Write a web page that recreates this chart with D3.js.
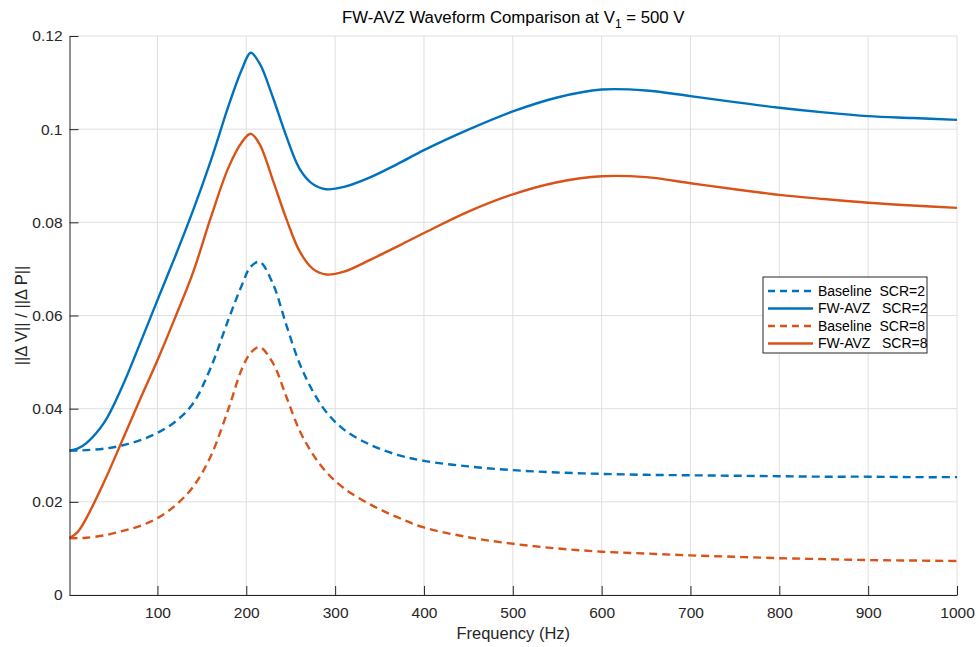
<!DOCTYPE html>
<html>
<head>
<meta charset="utf-8">
<script src="https://cdn.jsdelivr.net/npm/d3@7"></script>
<style>
  body { margin: 0; background: #fff; }
  svg { font-family: "Liberation Sans", Arial, sans-serif; }
  .legend text { white-space: pre; }
</style>
</head>
<body>
<div id="chart"></div>
<script>
// ---- data ----
const freqs = [1, 10, 20, 40, 60, 80, 100, 120, 140, 160, 180, 195, 205, 215, 230, 245, 260, 275, 290,
  310, 340, 370, 400, 450, 500, 550, 600, 650, 700, 750, 800, 850, 900, 950, 1000];

const baselineScr2 = [0.0310, 0.0310, 0.0311, 0.0314, 0.0321, 0.0332, 0.0348, 0.0372, 0.0411, 0.0488, 0.0592,
  0.0665, 0.0705, 0.0715, 0.0668, 0.0580, 0.0497, 0.0437, 0.0393,
  0.0355, 0.0322, 0.0301, 0.0288, 0.0276, 0.0268, 0.0263, 0.0260, 0.0258, 0.0257, 0.0256, 0.0255, 0.0254, 0.0254, 0.0253, 0.0253];

const fwavzScr2 = [0.0310, 0.0314, 0.0326, 0.0370, 0.0446, 0.0538, 0.0633, 0.0727, 0.0825, 0.0932, 0.1050,
  0.1128, 0.1164, 0.1141, 0.1068, 0.0985, 0.0915, 0.0882, 0.0871,
  0.0876, 0.0897, 0.0925, 0.0955, 0.0999, 0.1038, 0.1068, 0.1085, 0.1083, 0.1071, 0.1058, 0.1046, 0.1036, 0.1028, 0.1024, 0.1020];

const baselineScr8 = [0.0122, 0.0122, 0.0123, 0.0128, 0.0137, 0.0148, 0.0165, 0.0192, 0.0232, 0.0298, 0.0400,
  0.0485, 0.0520, 0.0532, 0.0498, 0.0426, 0.0353, 0.0302, 0.0264,
  0.0229, 0.0194, 0.0167, 0.0145, 0.0124, 0.0110, 0.0100, 0.0093, 0.0089, 0.0085, 0.0082, 0.0079, 0.0077, 0.0075, 0.0074, 0.0073];

const fwavzScr8 = [0.0122, 0.0135, 0.0165, 0.0243, 0.0330, 0.0418, 0.0504, 0.0596, 0.0692, 0.0810, 0.0918,
  0.0972, 0.0990, 0.0968, 0.0890, 0.0808, 0.0738, 0.0700, 0.0688,
  0.0694, 0.0720, 0.0748, 0.0777, 0.0823, 0.0860, 0.0886, 0.0899, 0.0897, 0.0884, 0.0871, 0.0859, 0.0850, 0.0842, 0.0836, 0.0831];

const xTicks = [100, 200, 300, 400, 500, 600, 700, 800, 900, 1000];
const yTicks = [0, 0.02, 0.04, 0.06, 0.08, 0.1, 0.12];

const seriesNames = ['Baseline  SCR=2', 'FW-AVZ   SCR=2', 'Baseline  SCR=8', 'FW-AVZ   SCR=8'];
const seriesValues = [baselineScr2, fwavzScr2, baselineScr8, fwavzScr8];
const seriesColors = ['#0072BD', '#0072BD', '#D95319', '#D95319'];
const seriesDashed = [true, false, true, false];

// ---- layout ----
const width = 978, height = 647;
const margin = { top: 36, right: 21, bottom: 52, left: 69.5 };
const innerW = width - margin.left - margin.right;
const innerH = height - margin.top - margin.bottom;
const axisColor = '#262626';
const fontFamily = '"Liberation Sans", Arial, sans-serif';

const svg = d3.select('#chart').append('svg')
  .attr('width', width)
  .attr('height', height);

const g = svg.append('g')
  .attr('transform', `translate(${margin.left},${margin.top})`);

const x = d3.scaleLinear().domain([1, 1000]).range([0, innerW]);
const y = d3.scaleLinear().domain([0, 0.12]).range([innerH, 0]);

// grid
g.append('g')
  .selectAll('line')
  .data(xTicks)
  .join('line')
  .attr('x1', d => x(d)).attr('x2', d => x(d))
  .attr('y1', 0).attr('y2', innerH)
  .attr('stroke', '#dfdfdf').attr('stroke-width', 1);

g.append('g')
  .selectAll('line')
  .data(yTicks)
  .join('line')
  .attr('x1', 0).attr('x2', innerW)
  .attr('y1', d => y(d)).attr('y2', d => y(d))
  .attr('stroke', '#dfdfdf').attr('stroke-width', 1);

// lines
const line = d3.line()
  .x(d => x(d[0]))
  .y(d => y(d[1]))
  .curve(d3.curveCatmullRom.alpha(0.5));

seriesValues.forEach((vals, i) => {
  g.append('path')
    .datum(freqs.map((f, k) => [f, vals[k]]))
    .attr('fill', 'none')
    .attr('stroke', seriesColors[i])
    .attr('stroke-width', 2.4)
    .attr('stroke-dasharray', seriesDashed[i] ? '8,5' : null)
    .attr('d', line);
});

// axes (ticks pointing inward, MATLAB style)
const xAxis = g.append('g')
  .attr('transform', `translate(0,${innerH})`)
  .call(d3.axisBottom(x).tickValues(xTicks).tickSize(-9).tickPadding(12).tickSizeOuter(0)
    .tickFormat(d3.format('d')));

const yAxis = g.append('g')
  .call(d3.axisLeft(y).tickValues(yTicks).tickSize(-9).tickPadding(7).tickSizeOuter(0)
    .tickFormat(d => d === 0 ? '0' : String(+d.toFixed(2))));

[xAxis, yAxis].forEach(ax => {
  ax.selectAll('line, path').attr('stroke', axisColor).attr('stroke-width', 1);
  ax.selectAll('text')
    .attr('fill', axisColor)
    .style('font-size', '15.5px')
    .style('font-family', fontFamily);
});
xAxis.selectAll('text').attr('dy', '0.71em');

// title
const title = svg.append('text')
  .attr('x', margin.left + innerW / 2)
  .attr('y', 23)
  .attr('text-anchor', 'middle')
  .attr('fill', '#000')
  .style('font-size', '16.8px');
title.append('tspan').text('FW-AVZ Waveform Comparison at V');
title.append('tspan').attr('dy', 5).style('font-size', '12px').text('1');
title.append('tspan').attr('dy', -5).text(' = 500 V');

// axis labels
svg.append('text')
  .attr('x', margin.left + innerW / 2)
  .attr('y', 639)
  .attr('text-anchor', 'middle')
  .attr('fill', axisColor)
  .style('font-size', '16.5px')
  .text('Frequency (Hz)');

svg.append('text')
  .attr('transform', `translate(27,${margin.top + innerH / 2}) rotate(-90)`)
  .attr('text-anchor', 'middle')
  .attr('fill', axisColor)
  .style('font-size', '16.5px')
  .text('||\u0394 V|| / ||\u0394 P||');

// legend
const legend = svg.append('g')
  .attr('class', 'legend')
  .attr('transform', 'translate(763,277)');

legend.append('rect')
  .attr('width', 164).attr('height', 76)
  .attr('fill', '#fff')
  .attr('stroke', axisColor).attr('stroke-width', 1);

seriesNames.forEach((name, i) => {
  const row = legend.append('g').attr('transform', `translate(0,${14 + i * 17.5})`);
  row.append('line')
    .attr('x1', 5).attr('x2', 50)
    .attr('stroke', seriesColors[i])
    .attr('stroke-width', 2.4)
    .attr('stroke-dasharray', seriesDashed[i] ? '7,5' : null);
  row.append('text')
    .attr('x', 55)
    .attr('dy', '0.35em')
    .attr('fill', '#000')
    .style('font-size', '14px')
    .attr('xml:space', 'preserve')
    .text(name);
});
</script>
</body>
</html>
